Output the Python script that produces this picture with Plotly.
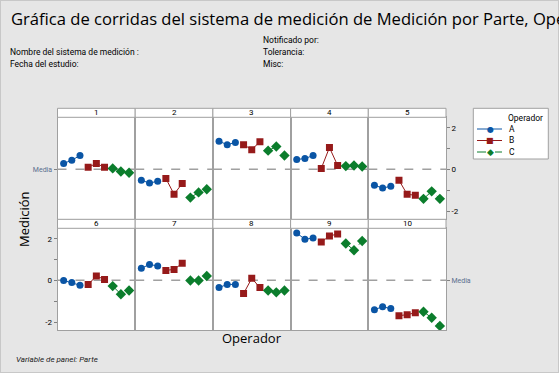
import plotly.graph_objects as go

# ---------------- data ----------------
parts = [str(i) for i in range(1, 11)]
operators = ["A", "B", "C"]
op_A = [[0.29, 0.44, 0.67], [-0.52, -0.65, -0.57], [1.35, 1.19, 1.29], [0.48, 0.52, 0.67],
        [-0.76, -0.89, -0.81], [0.00, -0.10, -0.23], [0.58, 0.77, 0.69], [-0.34, -0.19, -0.19],
        [2.27, 1.98, 2.03], [-1.40, -1.26, -1.35]]
op_B = [[0.10, 0.29, 0.10], [-0.43, -1.19, -0.67], [1.19, 0.95, 1.33], [0.05, 1.05, 0.19],
        [-0.52, -1.19, -1.24], [-0.19, 0.21, 0.05], [0.48, 0.53, 0.82], [-0.63, 0.10, -0.34],
        [1.84, 2.13, 2.23], [-1.69, -1.64, -1.55]]
op_C = [[0.05, -0.10, -0.16], [-1.35, -1.10, -0.95], [0.90, 1.10, 0.67], [0.16, 0.19, 0.14],
        [-1.41, -1.05, -1.41], [-0.27, -0.66, -0.48], [0.00, 0.00, 0.21], [-0.48, -0.57, -0.48],
        [1.77, 1.45, 1.89], [-1.50, -1.79, -2.18]]
y_ticks = [-2, -1, 0, 1, 2]
y_tick_labels = ["-2", "", "0", "", "2"]

series = [op_A, op_B, op_C]
colors = ["#0a55a5", "#961a1a", "#0b7d2c"]
symbols = ["circle", "square", "diamond"]
glyphs = ["\u25cf", "\u25a0", "\u25c6"]
msizes = [7, 7, 8]
dashes = ["solid", "solid", "dash"]

all_vals = [v for s in series for p in s for v in p]
media = sum(all_vals) / len(all_vals)

# ---------------- geometry (pixels) ----------------
W, H = 559, 373
left, right = 57.5, 446.0
pw = (right - left) / 5
strip_h = 9.0
row_tops = [108.3, 219.3]   # strip tops
plot_h = 102.0
YR = [-2.39, 2.5]
XR = [0.25, 9.75]
FONT = "Open Sans"
SMALL = "Roboto"
GRID = "#a0a0a0"


def fx(p):
    return p / W


def fy(p):
    return 1 - p / H


fig = go.Figure()
shapes = []
annotations = []
layout_axes = {}

for k, part in enumerate(parts):
    row, col = divmod(k, 5)
    xn = "x" if k == 0 else f"x{k + 1}"
    yn = "y" if k == 0 else f"y{k + 1}"
    xkey = "xaxis" if k == 0 else f"xaxis{k + 1}"
    ykey = "yaxis" if k == 0 else f"yaxis{k + 1}"
    x0p = left + col * pw
    x1p = x0p + pw
    st = row_tops[row]
    p_top = st + strip_h
    p_bot = p_top + plot_h

    for j, op in enumerate(operators):
        vals = series[j][k]
        xs = [3 * j + r + 1 for r in range(len(vals))]
        fig.add_trace(go.Scatter(
            x=xs, y=vals, xaxis=xn, yaxis=yn, mode="lines+markers",
            name=op, legendgroup=op, showlegend=False,
            line=dict(color=colors[j], width=1, dash=dashes[j]),
            marker=dict(color=colors[j], symbol=symbols[j], size=msizes[j]),
            hoverinfo="skip"))

    layout_axes[xkey] = dict(domain=[fx(x0p), fx(x1p)], range=XR, anchor=yn,
                             showgrid=False, zeroline=False, showticklabels=False,
                             ticks="", showline=True, mirror=True,
                             linecolor=GRID, linewidth=1)
    yax = dict(domain=[fy(p_bot), fy(p_top)], range=YR, anchor=xn,
               showgrid=False, zeroline=False, showline=True, mirror=True,
               linecolor=GRID, linewidth=1, showticklabels=False, ticks="")
    if (row == 0 and col == 4) or (row == 1 and col == 0):
        yax.update(showticklabels=True, ticks="outside", ticklen=3, tickcolor="#808080",
                   tickvals=y_ticks, ticktext=y_tick_labels,
                   side="right" if col == 4 else "left",
                   tickfont=dict(family=SMALL, size=8, color="#000"))
    elif (row == 0 and col == 0) or (row == 1 and col == 4):
        yax.update(showticklabels=True, ticks="outside", ticklen=3, tickcolor="#808080",
                   tickvals=[media], ticktext=["Media"],
                   side="left" if col == 0 else "right",
                   tickfont=dict(family=SMALL, size=7, color="#5b6f8f"))
    layout_axes[ykey] = yax

    # mean reference line
    shapes.append(dict(type="line", xref=f"{xn} domain", yref=yn, x0=0, x1=1,
                       y0=media, y1=media, layer="below",
                       line=dict(color=GRID, width=1.5, dash="dash")))
    # strip header
    shapes.append(dict(type="rect", xref="paper", yref="paper",
                       x0=fx(x0p), x1=fx(x1p), y0=fy(p_top), y1=fy(st),
                       fillcolor="white", line=dict(color=GRID, width=1)))
    annotations.append(dict(text=part, xref="paper", yref="paper",
                            x=fx((x0p + x1p) / 2), y=fy(st + strip_h / 2),
                            showarrow=False, xanchor="center", yanchor="middle",
                            font=dict(family=SMALL, size=8, color="#000")))

# outer frame of the picture
shapes.append(dict(type="rect", xref="paper", yref="paper", x0=0, x1=1, y0=0, y1=1,
                   line=dict(color="#c8c8c8", width=2), layer="above"))

# ---------------- legend (drawn as a key box) ----------------
lg_x0, lg_x1, lg_y0, lg_y1 = 473.3, 548.3, 108.3, 159.0
shapes.append(dict(type="rect", xref="paper", yref="paper",
                   x0=fx(lg_x0), x1=fx(lg_x1), y0=fy(lg_y1), y1=fy(lg_y0),
                   fillcolor="white", line=dict(color=GRID, width=1)))
annotations.append(dict(text="Operador", xref="paper", yref="paper",
                        x=fx(506), y=fy(118), xanchor="left", yanchor="middle",
                        showarrow=False, font=dict(family=SMALL, size=8.5, color="#000")))
item_y = [129.0, 140.5, 152.0]
for j, op in enumerate(operators):
    shapes.append(dict(type="line", xref="paper", yref="paper",
                       x0=fx(477), x1=fx(502), y0=fy(item_y[j]), y1=fy(item_y[j]),
                       line=dict(color=colors[j], width=1, dash=dashes[j])))
    annotations.append(dict(text=glyphs[j], xref="paper", yref="paper",
                            x=fx(490), y=fy(item_y[j]), xanchor="center", yanchor="middle",
                            showarrow=False,
                            font=dict(family="DejaVu Sans", size=8 if j < 2 else 9,
                                      color=colors[j])))
    annotations.append(dict(text=op, xref="paper", yref="paper",
                            x=fx(507), y=fy(item_y[j]), xanchor="left", yanchor="middle",
                            showarrow=False, font=dict(family=SMALL, size=8.5, color="#000")))

# titles and header text
texts = [
    dict(text="Gráfica de corridas del sistema de medición de Medición por Parte, Operador",
         x=fx(9), y=fy(18), font=dict(family=FONT, size=16.6, color="#000")),
    dict(text="Notificado por:", x=fx(261), y=fy(40.5)),
    dict(text="Nombre del sistema de medición :", x=fx(8), y=fy(52.5)),
    dict(text="Tolerancia:", x=fx(261), y=fy(52.5)),
    dict(text="Fecha del estudio:", x=fx(8), y=fy(63.5)),
    dict(text="Misc:", x=fx(261), y=fy(63.5)),
    dict(text="Operador", x=fx((left + right) / 2), y=fy(338), xanchor="center",
         font=dict(family=FONT, size=13, color="#000")),
    dict(text="Medición", x=fx(24), y=fy(219), xanchor="center", textangle=-90,
         font=dict(family=FONT, size=13, color="#000")),
    dict(text="<i>Variable de panel: Parte</i>", x=fx(14), y=fy(359),
         font=dict(family=SMALL, size=8, color="#222")),
]
for a in texts:
    a.setdefault("xref", "paper")
    a.setdefault("yref", "paper")
    a.setdefault("xanchor", "left")
    a.setdefault("yanchor", "middle")
    a.setdefault("showarrow", False)
    a.setdefault("font", dict(family=SMALL, size=8.5, color="#000"))
annotations += texts

fig.update_layout(
    width=W, height=H, autosize=False,
    margin=dict(l=0, r=0, t=0, b=0, pad=0, autoexpand=False),
    paper_bgcolor="#e6e6e6", plot_bgcolor="white",
    shapes=shapes, annotations=annotations,
    showlegend=False,
    **layout_axes,
)

fig.write_html("out.html",
               config={"displayModeBar": False, "staticPlot": True},
               post_script="document.body.style.margin='0';document.body.style.overflow='hidden';")
